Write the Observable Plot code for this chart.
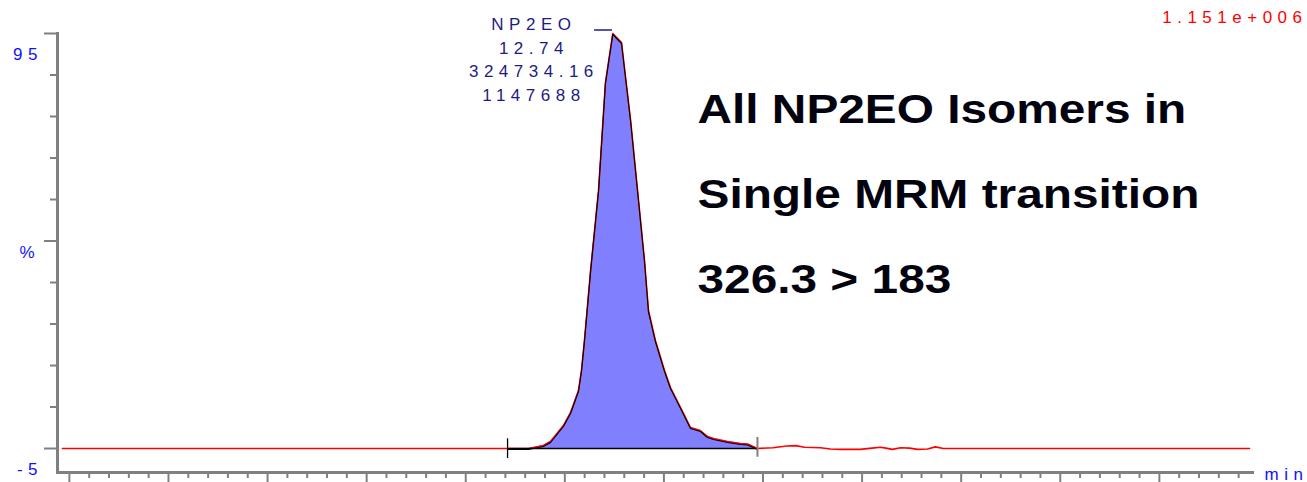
<!DOCTYPE html>
<html>
<head>
<meta charset="utf-8">
<script src="https://cdn.jsdelivr.net/npm/d3@7"></script>
<script src="https://cdn.jsdelivr.net/npm/@observablehq/plot@0.6"></script>
<style>
  html, body { margin: 0; padding: 0; background: #fff; }
  #chart svg { display: block; overflow: visible; }
  #chart svg text { letter-spacing: 5.5px; }
</style>
</head>
<body>
<div id="chart"></div>
<script>
// ---- data ----
const time = [9.965, 10.5, 11.0, 11.5, 12.0, 12.211, 12.317, 12.392, 12.428, 12.493, 12.529, 12.569, 12.584, 12.599, 12.630, 12.670, 12.705, 12.742, 12.786, 12.832, 12.872, 12.902, 12.922, 12.957, 13.003, 13.033, 13.084, 13.134, 13.184, 13.220, 13.250, 13.321, 13.386, 13.422, 13.472, 13.55, 13.62, 13.664, 13.71, 13.79, 13.84, 13.891, 13.99, 14.05, 14.093, 14.12, 14.153, 14.194, 14.24, 14.28, 14.33, 14.37, 14.41, 15.955];
const intensity = [0, 0, 0, 0, 0, 0, 0, 0.72, 1.69, 5.54, 8.67, 13.98, 18.80, 26.02, 42.89, 62.17, 88.19, 100, 97.83, 79.04, 59.76, 45.30, 33.25, 26.02, 18.80, 14.70, 9.88, 5.06, 4.34, 2.89, 2.41, 1.69, 1.20, 1.08, 0, 0.2, 0.6, 0.7, 0.3, 0.2, -0.1, -0.2, -0.2, 0.1, 0.3, 0.1, -0.2, 0.2, 0.1, -0.2, -0.1, 0.4, 0, 0];

const peakName = "NP2EO";
const peakRT = 12.74;
const peakArea = "324734.16";
const peakHeight = "1147688";
const integrationLimits = [12.211, 13.472];
const maxIntensityLabel = "1.151e+006";

const yTickLabels = [95, -5];
const yUnitLabel = "%";
const xUnitLabel = "min";
const titleLines = ["All NP2EO Isomers in", "Single MRM transition", "326.3 > 183"];

const xMajorTicks = d3.range(10, 15.51, 0.5).map(v => +v.toFixed(1));
const xMinorTicks = d3.range(100, 160).map(v => v / 10).filter(v => !xMajorTicks.includes(v));
const yMajorTicks = [0, 50, 100];
const yMinorTicks = [10, 20, 30, 40, 60, 70, 80, 90];

// ---- build table ----
const trace = time.map((t, i) => ({t, v: intensity[i]}));
const peak = trace.filter(d => d.t >= integrationLimits[0] && d.t <= integrationLimits[1]);

// ---- colours & layout ----
const gray = "#808080", red = "#ff0000", navy = "#1c1c84", blue = "#1010ff", ink = "#03030f";
const xDomain = [9.94, 15.97], yDomain = [-5.78, 100];
const titleDy = [89, 174, 259];

const plot = Plot.plot({
  width: 1307,
  height: 482,
  marginLeft: 57,
  marginRight: 55,
  marginTop: 33,
  marginBottom: 10,
  style: {fontFamily: "'Liberation Sans', Arial, sans-serif", fontSize: "17px", background: "#fff"},
  x: {domain: xDomain, label: null},
  y: {domain: yDomain, label: null},
  marks: [
    // filled integrated peak
    Plot.areaY(peak, {x: "t", y: "v", fill: "#8080ff"}),
    // trace
    Plot.line(trace, {x: "t", y: "v", stroke: red, strokeWidth: 1.6}),
    Plot.line(peak, {x: "t", y: "v", stroke: "#000", strokeWidth: 1.1, dy: 1}),
    // integration baseline and limits
    Plot.ruleY([0], {x1: integrationLimits[0], x2: integrationLimits[1], stroke: "#000", strokeWidth: 1.3}),
    Plot.ruleX([integrationLimits[0]], {y1: 2.34, y2: -2.41, stroke: "#000", strokeWidth: 1.3}),
    Plot.ruleX([integrationLimits[1]], {y1: 2.65, y2: -2.1, stroke: gray, strokeWidth: 2}),
    // apex marker
    Plot.ruleY([{rt: peakRT, v: 100}], {y: "v", x1: d => d.rt - 0.09, x2: "rt", dy: -3.5, stroke: navy, strokeWidth: 1.5}),
    // peak annotation
    Plot.text([{rt: peakRT, v: 100}], {
      x: "rt", y: "v",
      text: d => [peakName, d.rt.toFixed(2), peakArea, peakHeight].join("\n"),
      lineAnchor: "top", lineHeight: 1.38, textAnchor: "middle",
      dx: -78.5, dy: -20, fill: navy, fontSize: 17
    }),
    // max intensity label
    Plot.text([maxIntensityLabel], {frameAnchor: "top-right", textAnchor: "end", lineAnchor: "top", dx: 55, dy: -23, fill: red, fontSize: 17}),
    // axes
    Plot.frame({anchor: "left", stroke: gray, strokeWidth: 3}),
    Plot.frame({anchor: "bottom", stroke: gray, strokeWidth: 3}),
    Plot.axisY(yMinorTicks, {tickSize: 7, tickFormat: () => "", stroke: gray, strokeWidth: 2, label: null}),
    Plot.axisY(yMajorTicks, {tickSize: 13, tickFormat: () => "", stroke: gray, strokeWidth: 2, label: null}),
    Plot.axisY(yTickLabels, {tickSize: 0, tickPadding: 14.5, tickFormat: d => String(d), fill: blue, fontSize: 17, label: null}),
    Plot.text([yUnitLabel], {y: () => 47.3, frameAnchor: "left", dx: -27.75, textAnchor: "middle", fill: blue, fontSize: 17}),
    Plot.axisX(xMinorTicks, {tickSize: 6, tickFormat: () => "", stroke: gray, strokeWidth: 2, label: null}),
    Plot.axisX(xMajorTicks, {tickSize: 10, tickFormat: () => "", stroke: gray, strokeWidth: 2, label: null}),
    Plot.text([xUnitLabel], {frameAnchor: "bottom-right", textAnchor: "start", lineAnchor: "bottom", dx: 12, dy: 7, fill: blue, fontSize: 17}),
    // title block
    ...titleLines.map((line, i) => Plot.text([line], {
      frameAnchor: "top-left", textAnchor: "start", lineAnchor: "bottom",
      dx: 640, dy: titleDy[i], fill: ink, fontSize: 40, fontWeight: "bold"
    }))
  ]
});

document.getElementById("chart").appendChild(plot);

// title text: no letter spacing, horizontally widened glyphs as in the reference
d3.select(plot).selectAll("text").filter(function() { return titleLines.includes(this.textContent); })
  .each(function() {
    this.style.letterSpacing = "0px";
    const L = this.getComputedTextLength();
    this.setAttribute("textLength", (L * 1.195).toFixed(1));
    this.setAttribute("lengthAdjust", "spacingAndGlyphs");
  });
</script>
</body>
</html>
